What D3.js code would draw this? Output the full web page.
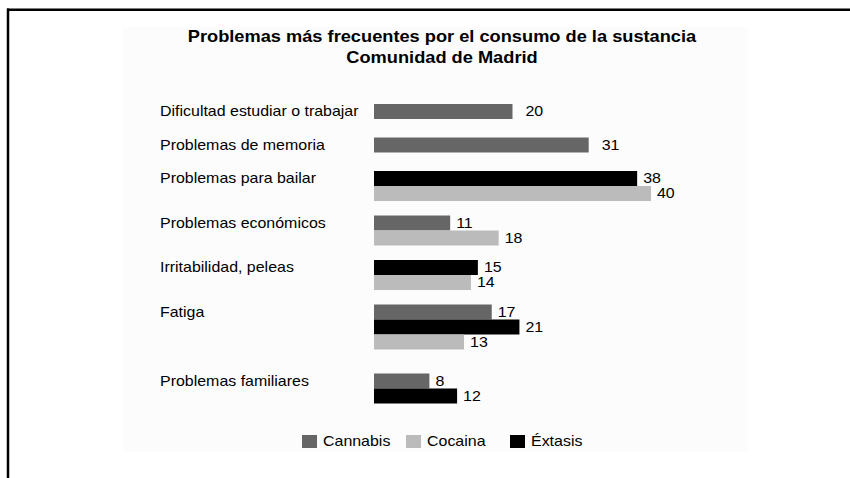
<!DOCTYPE html>
<html>
<head>
<meta charset="utf-8">
<script src="https://cdn.jsdelivr.net/npm/d3@7"></script>
<style>
  html, body { margin: 0; padding: 0; background: #fff; }
  svg text { font-family: "Liberation Sans", Arial, sans-serif; fill: #000; }
</style>
</head>
<body>
<svg id="chart" width="850" height="478"></svg>
<script>
// data
const categories = [
  "Dificultad estudiar o trabajar",
  "Problemas de memoria",
  "Problemas para bailar",
  "Problemas económicos",
  "Irritabilidad, peleas",
  "Fatiga",
  "Problemas familiares"
];
const cannabis = [20, 31, null, 11, null, 17, 8];
const cocaina  = [null, null, 40, 18, 14, 13, null];
const extasis  = [null, null, 38, null, 15, 21, 12];

const seriesNames = ["Cannabis", "Cocaina", "Éxtasis"];
const titleLines = ["Problemas más frecuentes por el consumo de la sustancia", "Comunidad de Madrid"];

const colors = {"Cannabis": "#666666", "Cocaina": "#bbbbbb", "Éxtasis": "#000000"};
// order of the bars inside one group
const barOrder = [["Cannabis", cannabis], ["Éxtasis", extasis], ["Cocaina", cocaina]];

// the original picture is a bit wider than tall, text looks stretched
const stretch = 1.14;
const place = (x, y) => `translate(${x},${y}) scale(${stretch},1)`;

const svg = d3.select("#chart");

// outer frame (top and left only)
svg.append("line").attr("x1", 7).attr("x2", 850).attr("y1", 9.75).attr("y2", 9.75)
  .attr("stroke", "#000").attr("stroke-width", 2.5);
svg.append("line").attr("x1", 8).attr("x2", 8).attr("y1", 8.5).attr("y2", 478)
  .attr("stroke", "#000").attr("stroke-width", 2.5);

// chart area
svg.append("rect").attr("x", 123).attr("y", 27).attr("width", 625).attr("height", 425)
  .attr("fill", "#fcfcfc");

svg.selectAll("text.title")
  .data(titleLines)
  .enter().append("text")
  .attr("class", "title")
  .attr("transform", (d, i) => place(442, 42 + i * 21))
  .attr("text-anchor", "middle")
  .style("font-size", "16px")
  .style("font-weight", "bold")
  .text(d => d);

const x = d3.scaleLinear().domain([0, 40]).range([374, 651]);
const barH = 15;
const gapAfter = {1: 18.5, 2: 14.5, 3: 24};

// build groups
let yCursor = 104;
const groups = categories.map((c, i) => {
  const bars = barOrder
    .filter(([name, arr]) => arr[i] != null)
    .map(([name, arr], j) => ({name, value: arr[i], y: yCursor + j * barH}));
  const g = {category: c, y0: yCursor, bars};
  yCursor += bars.length * barH + gapAfter[bars.length];
  return g;
});

const gSel = svg.selectAll("g.group")
  .data(groups)
  .enter().append("g")
  .attr("class", "group");

gSel.append("text")
  .attr("transform", d => place(160, d.y0 + barH / 2))
  .attr("dy", "0.35em")
  .style("font-size", "14px")
  .text(d => d.category);

gSel.selectAll("rect")
  .data(d => d.bars)
  .enter().append("rect")
  .attr("x", x(0))
  .attr("y", d => d.y)
  .attr("width", d => x(d.value) - x(0))
  .attr("height", barH)
  .attr("fill", d => colors[d.name]);

gSel.each(function (g) {
  const off = g.bars.length === 1 ? 13 : 6;
  d3.select(this).selectAll("text.val")
    .data(g.bars)
    .enter().append("text")
    .attr("class", "val")
    .attr("transform", d => place(x(d.value) + off, d.y + barH / 2))
    .attr("dy", "0.35em")
    .style("font-size", "14px")
    .text(d => d.value);
});

// legend
const legendX = [302, 406, 510];
const leg = svg.selectAll("g.legend")
  .data(seriesNames)
  .enter().append("g")
  .attr("class", "legend")
  .attr("transform", (d, i) => `translate(${legendX[i]},435)`);
leg.append("rect").attr("width", 15).attr("height", 13).attr("fill", d => colors[d]);
leg.append("text").attr("transform", place(21, 6.5)).attr("dy", "0.35em")
  .style("font-size", "14px").text(d => d);
</script>
</body>
</html>
